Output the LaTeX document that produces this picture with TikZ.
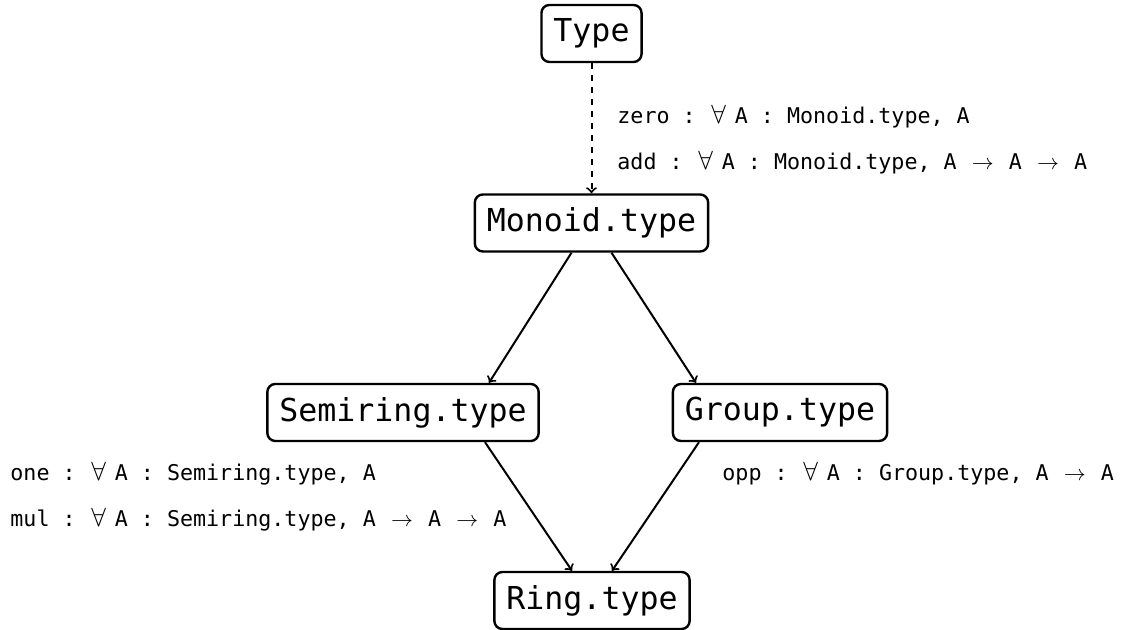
\documentclass[tikz,border=0pt]{standalone}
\usepackage{graphicx}
\usepackage{fontspec}
\setmonofont{DejaVu Sans Mono}
\usetikzlibrary{calc}

% one column of the signature listings
\newlength\colw
\newcommand\boxfont{\fontsize{15.8}{19}\selectfont\ttfamily}
\newcommand\sigfont{\fontsize{10.84}{13}\selectfont\ttfamily\settowidth{\colw}{0}}
\newcommand\sigall{\makebox[2\colw][l]{\hspace{0.2\colw}\scalebox{1.2}{$\forall$}}}
\newcommand\sigto{\makebox[2\colw][c]{$\rightarrow$}}

\tikzset{
  typebox/.style={draw, rounded corners=4pt, line width=1.2pt, font=\boxfont,
                  inner xsep=6pt, inner ysep=0pt, minimum height=28.5pt},
  sig/.style={font=\sigfont, anchor=base west, inner sep=0pt},
  link/.style={->, line width=1pt},
}

\begin{document}
\begin{tikzpicture}[x=0.5pt,y=-0.5pt]
\useasboundingbox (0,0) rectangle (1121,630);

% structures
\node[typebox] (type)  at (591.5,33.5) {Type};
\node[typebox] (mon)   at (591.5,223)  {Monoid.type};
\node[typebox] (semi)  at (403,412.5)  {Semiring.type};
\node[typebox] (grp)   at (780,412.5)  {Group.type};
\node[typebox] (ring)  at (592,600.5)  {Ring.type};

% inheritance
\draw[link, dashed] (type.south) -- (mon.north);

\coordinate (monL)  at ($(mon.south)+(-20,0)$);
\coordinate (monR)  at ($(mon.south)+(20,0)$);
\coordinate (semiN) at ($(semi.north)+(86,0)$);
\coordinate (semiS) at ($(semi.south)+(82,0)$);
\coordinate (grpN)  at ($(grp.north)+(-84,0)$);
\coordinate (grpS)  at ($(grp.south)+(-81,0)$);
\coordinate (ringL) at ($(ring.north)+(-20,0)$);
\coordinate (ringR) at ($(ring.north)+(20,0)$);

\draw[link] (monL) -- (semiN);
\draw[link] (monR) -- (grpN);
\draw[link] (semiS) -- (ringL);
\draw[link] (grpS) -- (ringR);

% operations
\node[sig] (zero) at (617,124) {zero : \sigall A : Monoid.type, A};
\node[sig] (add)  at (617,170) {add : \sigall A : Monoid.type, A \sigto{} A \sigto{} A};
\node[sig] (one)  at (10,481)  {one : \sigall A : Semiring.type, A};
\node[sig] (mul)  at (10,527)  {mul : \sigall A : Semiring.type, A \sigto{} A \sigto{} A};
\node[sig] (opp)  at (722,481) {opp : \sigall A : Group.type, A \sigto{} A};
\end{tikzpicture}
\end{document}
